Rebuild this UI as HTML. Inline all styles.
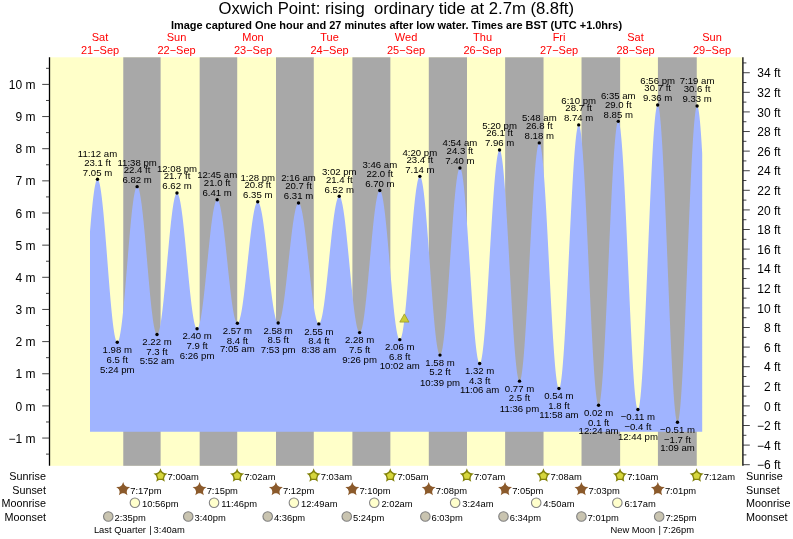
<!DOCTYPE html><html><head><meta charset="utf-8"><title>Oxwich Point tide</title><style>html,body{margin:0;padding:0;background:#fff}svg{display:block;will-change:transform}text{font-family:"Liberation Sans",Arial,Helvetica,sans-serif;fill:#000}.d{font-size:9.6px;text-anchor:middle}.a{font-size:12px}.r{font-size:11px;fill:#ff0000;text-anchor:middle}.t{font-size:9.4px}</style></head><body>
<svg width="793" height="539" viewBox="0 0 793 539">
<rect x="0" y="0" width="793" height="539" fill="#fff"/>
<rect x="49.80" y="57.30" width="692.70" height="408.50" fill="#ffffc9"/>
<rect x="123.27" y="57.30" width="37.35" height="408.50" fill="#a8a8a8"/>
<rect x="199.66" y="57.30" width="37.56" height="408.50" fill="#a8a8a8"/>
<rect x="276.00" y="57.30" width="37.77" height="408.50" fill="#a8a8a8"/>
<rect x="352.39" y="57.30" width="37.98" height="408.50" fill="#a8a8a8"/>
<rect x="428.79" y="57.30" width="38.20" height="408.50" fill="#a8a8a8"/>
<rect x="505.13" y="57.30" width="38.41" height="408.50" fill="#a8a8a8"/>
<rect x="581.52" y="57.30" width="38.62" height="408.50" fill="#a8a8a8"/>
<rect x="657.92" y="57.30" width="38.83" height="408.50" fill="#a8a8a8"/>
<path d="M90.00,431.80 L90.00,231.46 L90.50,225.42 L91.00,219.62 L91.50,214.10 L92.00,208.88 L92.50,204.01 L93.00,199.50 L93.50,195.39 L94.00,191.70 L94.50,188.45 L95.00,185.68 L95.50,183.38 L96.00,181.58 L96.50,180.28 L97.00,179.50 L97.50,179.24 L98.00,179.50 L98.50,180.27 L99.00,181.55 L99.50,183.33 L100.00,185.59 L100.50,188.34 L101.00,191.54 L101.50,195.17 L102.00,199.22 L102.50,203.66 L103.00,208.46 L103.50,213.59 L104.00,219.01 L104.50,224.71 L105.00,230.62 L105.50,236.73 L106.00,242.99 L106.50,249.36 L107.00,255.81 L107.50,262.28 L108.00,268.75 L108.50,275.16 L109.00,281.48 L109.50,287.68 L110.00,293.70 L110.50,299.51 L111.00,305.08 L111.50,310.37 L112.00,315.35 L112.50,319.98 L113.00,324.24 L113.50,328.09 L114.00,331.53 L114.50,334.51 L115.00,337.03 L115.50,339.06 L116.00,340.61 L116.50,341.65 L117.00,342.17 L117.50,342.19 L118.00,341.71 L118.50,340.76 L119.00,339.33 L119.50,337.42 L120.00,335.07 L120.50,332.27 L121.00,329.05 L121.50,325.42 L122.00,321.42 L122.50,317.05 L123.00,312.36 L123.50,307.37 L124.00,302.11 L124.50,296.62 L125.00,290.93 L125.50,285.07 L126.00,279.08 L126.50,273.00 L127.00,266.86 L127.50,260.71 L128.00,254.59 L128.50,248.52 L129.00,242.56 L129.50,236.73 L130.00,231.07 L130.50,225.63 L131.00,220.42 L131.50,215.49 L132.00,210.87 L132.50,206.58 L133.00,202.65 L133.50,199.11 L134.00,195.98 L134.50,193.27 L135.00,191.01 L135.50,189.21 L136.00,187.88 L136.50,187.02 L137.00,186.65 L137.50,186.76 L138.00,187.33 L138.50,188.36 L139.00,189.84 L139.50,191.76 L140.00,194.11 L140.50,196.88 L141.00,200.05 L141.50,203.59 L142.00,207.49 L142.50,211.72 L143.00,216.25 L143.50,221.07 L144.00,226.13 L144.50,231.40 L145.00,236.86 L145.50,242.46 L146.00,248.18 L146.50,253.98 L147.00,259.81 L147.50,265.66 L148.00,271.47 L148.50,277.21 L149.00,282.85 L149.50,288.35 L150.00,293.67 L150.50,298.79 L151.00,303.67 L151.50,308.28 L152.00,312.60 L152.50,316.59 L153.00,320.22 L153.50,323.49 L154.00,326.36 L154.50,328.82 L155.00,330.86 L155.50,332.46 L156.00,333.60 L156.50,334.30 L157.00,334.53 L157.50,334.31 L158.00,333.65 L158.50,332.57 L159.00,331.06 L159.50,329.13 L160.00,326.80 L160.50,324.08 L161.00,320.99 L161.50,317.54 L162.00,313.76 L162.50,309.67 L163.00,305.30 L163.50,300.68 L164.00,295.82 L164.50,290.77 L165.00,285.55 L165.50,280.19 L166.00,274.74 L166.50,269.21 L167.00,263.66 L167.50,258.10 L168.00,252.58 L168.50,247.13 L169.00,241.78 L169.50,236.57 L170.00,231.53 L170.50,226.68 L171.00,222.07 L171.50,217.71 L172.00,213.64 L172.50,209.87 L173.00,206.44 L173.50,203.37 L174.00,200.67 L174.50,198.36 L175.00,196.45 L175.50,194.96 L176.00,193.90 L176.50,193.26 L177.00,193.07 L177.50,193.30 L178.00,193.94 L178.50,194.99 L179.00,196.44 L179.50,198.29 L180.00,200.52 L180.50,203.12 L181.00,206.08 L181.50,209.37 L182.00,212.97 L182.50,216.87 L183.00,221.04 L183.50,225.45 L184.00,230.07 L184.50,234.89 L185.00,239.87 L185.50,244.97 L186.00,250.17 L186.50,255.44 L187.00,260.74 L187.50,266.04 L188.00,271.31 L188.50,276.52 L189.00,281.63 L189.50,286.61 L190.00,291.44 L190.50,296.08 L191.00,300.50 L191.50,304.69 L192.00,308.60 L192.50,312.22 L193.00,315.53 L193.50,318.51 L194.00,321.13 L194.50,323.39 L195.00,325.26 L195.50,326.74 L196.00,327.82 L196.50,328.48 L197.00,328.74 L197.50,328.59 L198.00,328.04 L198.50,327.11 L199.00,325.80 L199.50,324.11 L200.00,322.06 L200.50,319.66 L201.00,316.92 L201.50,313.86 L202.00,310.49 L202.50,306.85 L203.00,302.95 L203.50,298.81 L204.00,294.47 L204.50,289.93 L205.00,285.25 L205.50,280.43 L206.00,275.52 L206.50,270.54 L207.00,265.52 L207.50,260.49 L208.00,255.49 L208.50,250.54 L209.00,245.67 L209.50,240.92 L210.00,236.31 L210.50,231.87 L211.00,227.62 L211.50,223.60 L212.00,219.83 L212.50,216.33 L213.00,213.11 L213.50,210.21 L214.00,207.64 L214.50,205.42 L215.00,203.55 L215.50,202.05 L216.00,200.93 L216.50,200.19 L217.00,199.85 L217.50,199.89 L218.00,200.31 L218.50,201.10 L219.00,202.25 L219.50,203.76 L220.00,205.62 L220.50,207.83 L221.00,210.35 L221.50,213.19 L222.00,216.32 L222.50,219.72 L223.00,223.37 L223.50,227.26 L224.00,231.35 L224.50,235.63 L225.00,240.06 L225.50,244.62 L226.00,249.29 L226.50,254.03 L227.00,258.82 L227.50,263.62 L228.00,268.41 L228.50,273.15 L229.00,277.83 L229.50,282.41 L230.00,286.86 L230.50,291.16 L231.00,295.28 L231.50,299.20 L232.00,302.89 L232.50,306.33 L233.00,309.49 L233.50,312.37 L234.00,314.94 L234.50,317.19 L235.00,319.10 L235.50,320.66 L236.00,321.86 L236.50,322.70 L237.00,323.17 L237.50,323.26 L238.00,322.99 L238.50,322.37 L239.00,321.38 L239.50,320.04 L240.00,318.36 L240.50,316.35 L241.00,314.02 L241.50,311.38 L242.00,308.45 L242.50,305.24 L243.00,301.78 L243.50,298.09 L244.00,294.19 L244.50,290.09 L245.00,285.84 L245.50,281.44 L246.00,276.93 L246.50,272.33 L247.00,267.68 L247.50,262.99 L248.00,258.31 L248.50,253.64 L249.00,249.03 L249.50,244.51 L250.00,240.08 L250.50,235.79 L251.00,231.66 L251.50,227.72 L252.00,223.98 L252.50,220.47 L253.00,217.21 L253.50,214.22 L254.00,211.52 L254.50,209.13 L255.00,207.05 L255.50,205.30 L256.00,203.89 L256.50,202.83 L257.00,202.13 L257.50,201.78 L258.00,201.80 L258.50,202.18 L259.00,202.91 L259.50,203.99 L260.00,205.41 L260.50,207.17 L261.00,209.25 L261.50,211.65 L262.00,214.35 L262.50,217.33 L263.00,220.58 L263.50,224.07 L264.00,227.78 L264.50,231.71 L265.00,235.81 L265.50,240.07 L266.00,244.45 L266.50,248.95 L267.00,253.52 L267.50,258.15 L268.00,262.80 L268.50,267.45 L269.00,272.07 L269.50,276.63 L270.00,281.11 L270.50,285.47 L271.00,289.70 L271.50,293.77 L272.00,297.65 L272.50,301.33 L273.00,304.77 L273.50,307.97 L274.00,310.90 L274.50,313.54 L275.00,315.87 L275.50,317.90 L276.00,319.59 L276.50,320.95 L277.00,321.96 L277.50,322.62 L278.00,322.93 L278.50,322.88 L279.00,322.47 L279.50,321.71 L280.00,320.60 L280.50,319.14 L281.00,317.35 L281.50,315.24 L282.00,312.81 L282.50,310.09 L283.00,307.09 L283.50,303.82 L284.00,300.32 L284.50,296.59 L285.00,292.66 L285.50,288.55 L286.00,284.29 L286.50,279.90 L287.00,275.42 L287.50,270.85 L288.00,266.25 L288.50,261.62 L289.00,257.00 L289.50,252.42 L290.00,247.90 L290.50,243.47 L291.00,239.15 L291.50,234.98 L292.00,230.97 L292.50,227.16 L293.00,223.56 L293.50,220.19 L294.00,217.08 L294.50,214.24 L295.00,211.70 L295.50,209.46 L296.00,207.53 L296.50,205.94 L297.00,204.69 L297.50,203.78 L298.00,203.23 L298.50,203.03 L299.00,203.20 L299.50,203.72 L300.00,204.60 L300.50,205.84 L301.00,207.42 L301.50,209.33 L302.00,211.57 L302.50,214.12 L303.00,216.97 L303.50,220.09 L304.00,223.47 L304.50,227.10 L305.00,230.94 L305.50,234.98 L306.00,239.18 L306.50,243.53 L307.00,248.01 L307.50,252.57 L308.00,257.20 L308.50,261.87 L309.00,266.54 L309.50,271.20 L310.00,275.82 L310.50,280.35 L311.00,284.79 L311.50,289.10 L312.00,293.26 L312.50,297.23 L313.00,301.01 L313.50,304.56 L314.00,307.87 L314.50,310.90 L315.00,313.66 L315.50,316.11 L316.00,318.25 L316.50,320.07 L317.00,321.54 L317.50,322.66 L318.00,323.43 L318.50,323.84 L319.00,323.89 L319.50,323.57 L320.00,322.86 L320.50,321.79 L321.00,320.35 L321.50,318.55 L322.00,316.41 L322.50,313.93 L323.00,311.14 L323.50,308.04 L324.00,304.66 L324.50,301.01 L325.00,297.12 L325.50,293.01 L326.00,288.71 L326.50,284.24 L327.00,279.62 L327.50,274.89 L328.00,270.07 L328.50,265.19 L329.00,260.28 L329.50,255.37 L330.00,250.49 L330.50,245.67 L331.00,240.93 L331.50,236.30 L332.00,231.82 L332.50,227.50 L333.00,223.38 L333.50,219.47 L334.00,215.81 L334.50,212.40 L335.00,209.28 L335.50,206.46 L336.00,203.96 L336.50,201.79 L337.00,199.97 L337.50,198.50 L338.00,197.40 L338.50,196.67 L339.00,196.32 L339.50,196.35 L340.00,196.77 L340.50,197.60 L341.00,198.83 L341.50,200.44 L342.00,202.44 L342.50,204.80 L343.00,207.51 L343.50,210.57 L344.00,213.94 L344.50,217.61 L345.00,221.56 L345.50,225.76 L346.00,230.19 L346.50,234.83 L347.00,239.64 L347.50,244.59 L348.00,249.67 L348.50,254.83 L349.00,260.05 L349.50,265.29 L350.00,270.53 L350.50,275.74 L351.00,280.87 L351.50,285.91 L352.00,290.83 L352.50,295.58 L353.00,300.15 L353.50,304.51 L354.00,308.64 L354.50,312.50 L355.00,316.07 L355.50,319.34 L356.00,322.29 L356.50,324.89 L357.00,327.13 L357.50,329.00 L358.00,330.49 L358.50,331.59 L359.00,332.29 L359.50,332.59 L360.00,332.47 L360.50,331.93 L361.00,330.96 L361.50,329.57 L362.00,327.78 L362.50,325.57 L363.00,322.99 L363.50,320.03 L364.00,316.71 L364.50,313.07 L365.00,309.11 L365.50,304.86 L366.00,300.35 L366.50,295.61 L367.00,290.66 L367.50,285.53 L368.00,280.26 L368.50,274.87 L369.00,269.41 L369.50,263.90 L370.00,258.37 L370.50,252.86 L371.00,247.41 L371.50,242.04 L372.00,236.78 L372.50,231.68 L373.00,226.76 L373.50,222.05 L374.00,217.58 L374.50,213.37 L375.00,209.46 L375.50,205.86 L376.00,202.60 L376.50,199.69 L377.00,197.16 L377.50,195.02 L378.00,193.28 L378.50,191.96 L379.00,191.05 L379.50,190.58 L380.00,190.53 L380.50,190.94 L381.00,191.81 L381.50,193.13 L382.00,194.89 L382.50,197.09 L383.00,199.71 L383.50,202.73 L384.00,206.14 L384.50,209.91 L385.00,214.03 L385.50,218.46 L386.00,223.17 L386.50,228.15 L387.00,233.35 L387.50,238.76 L388.00,244.32 L388.50,250.01 L389.00,255.80 L389.50,261.64 L390.00,267.50 L390.50,273.35 L391.00,279.15 L391.50,284.86 L392.00,290.45 L392.50,295.88 L393.00,301.12 L393.50,306.14 L394.00,310.91 L394.50,315.39 L395.00,319.56 L395.50,323.39 L396.00,326.87 L396.50,329.96 L397.00,332.65 L397.50,334.92 L398.00,336.76 L398.50,338.16 L399.00,339.11 L399.50,339.60 L400.00,339.62 L400.50,339.16 L401.00,338.19 L401.50,336.74 L402.00,334.80 L402.50,332.40 L403.00,329.53 L403.50,326.24 L404.00,322.52 L404.50,318.41 L405.00,313.93 L405.50,309.11 L406.00,303.98 L406.50,298.56 L407.00,292.90 L407.50,287.02 L408.00,280.97 L408.50,274.78 L409.00,268.48 L409.50,262.12 L410.00,255.73 L410.50,249.36 L411.00,243.04 L411.50,236.82 L412.00,230.72 L412.50,224.79 L413.00,219.06 L413.50,213.57 L414.00,208.35 L414.50,203.44 L415.00,198.86 L415.50,194.64 L416.00,190.81 L416.50,187.39 L417.00,184.40 L417.50,181.86 L418.00,179.79 L418.50,178.20 L419.00,177.09 L419.50,176.48 L420.00,176.37 L420.50,176.79 L421.00,177.75 L421.50,179.25 L422.00,181.27 L422.50,183.81 L423.00,186.85 L423.50,190.36 L424.00,194.34 L424.50,198.74 L425.00,203.56 L425.50,208.75 L426.00,214.29 L426.50,220.15 L427.00,226.28 L427.50,232.65 L428.00,239.22 L428.50,245.95 L429.00,252.81 L429.50,259.74 L430.00,266.71 L430.50,273.67 L431.00,280.58 L431.50,287.41 L432.00,294.10 L432.50,300.62 L433.00,306.92 L433.50,312.98 L434.00,318.75 L434.50,324.20 L435.00,329.29 L435.50,333.99 L436.00,338.28 L436.50,342.13 L437.00,345.51 L437.50,348.41 L438.00,350.80 L438.50,352.68 L439.00,354.02 L439.50,354.83 L440.00,355.10 L440.50,354.81 L441.00,353.93 L441.50,352.49 L442.00,350.47 L442.50,347.91 L443.00,344.81 L443.50,341.19 L444.00,337.07 L444.50,332.49 L445.00,327.46 L445.50,322.03 L446.00,316.22 L446.50,310.07 L447.00,303.62 L447.50,296.91 L448.00,289.97 L448.50,282.87 L449.00,275.62 L449.50,268.29 L450.00,260.92 L450.50,253.56 L451.00,246.24 L451.50,239.02 L452.00,231.94 L452.50,225.04 L453.00,218.37 L453.50,211.96 L454.00,205.87 L454.50,200.12 L455.00,194.75 L455.50,189.80 L456.00,185.29 L456.50,181.26 L457.00,177.73 L457.50,174.71 L458.00,172.24 L458.50,170.32 L459.00,168.97 L459.50,168.19 L460.00,168.00 L460.50,168.41 L461.00,169.43 L461.50,171.06 L462.00,173.29 L462.50,176.10 L463.00,179.48 L463.50,183.41 L464.00,187.85 L464.50,192.78 L465.00,198.18 L465.50,204.00 L466.00,210.21 L466.50,216.77 L467.00,223.65 L467.50,230.78 L468.00,238.14 L468.50,245.67 L469.00,253.33 L469.50,261.07 L470.00,268.83 L470.50,276.58 L471.00,284.26 L471.50,291.82 L472.00,299.21 L472.50,306.40 L473.00,313.33 L473.50,319.95 L474.00,326.24 L474.50,332.14 L475.00,337.63 L475.50,342.66 L476.00,347.20 L476.50,351.23 L477.00,354.72 L477.50,357.65 L478.00,359.99 L478.50,361.74 L479.00,362.89 L479.50,363.42 L480.00,363.33 L480.50,362.57 L481.00,361.15 L481.50,359.08 L482.00,356.37 L482.50,353.03 L483.00,349.10 L483.50,344.59 L484.00,339.53 L484.50,333.95 L485.00,327.89 L485.50,321.38 L486.00,314.48 L486.50,307.21 L487.00,299.62 L487.50,291.77 L488.00,283.70 L488.50,275.46 L489.00,267.10 L489.50,258.68 L490.00,250.24 L490.50,241.85 L491.00,233.55 L491.50,225.39 L492.00,217.43 L492.50,209.71 L493.00,202.29 L493.50,195.21 L494.00,188.51 L494.50,182.24 L495.00,176.44 L495.50,171.13 L496.00,166.36 L496.50,162.16 L497.00,158.55 L497.50,155.54 L498.00,153.18 L498.50,151.45 L499.00,150.39 L499.50,149.99 L500.00,150.28 L500.50,151.27 L501.00,152.98 L501.50,155.38 L502.00,158.46 L502.50,162.20 L503.00,166.59 L503.50,171.58 L504.00,177.16 L504.50,183.28 L505.00,189.91 L505.50,197.01 L506.00,204.53 L506.50,212.43 L507.00,220.65 L507.50,229.16 L508.00,237.89 L508.50,246.79 L509.00,255.81 L509.50,264.88 L510.00,273.97 L510.50,282.99 L511.00,291.92 L511.50,300.68 L512.00,309.22 L512.50,317.49 L513.00,325.44 L513.50,333.02 L514.00,340.19 L514.50,346.89 L515.00,353.09 L515.50,358.75 L516.00,363.83 L516.50,368.31 L517.00,372.15 L517.50,375.33 L518.00,377.84 L518.50,379.65 L519.00,380.75 L519.50,381.14 L520.00,380.81 L520.50,379.72 L521.00,377.89 L521.50,375.32 L522.00,372.04 L522.50,368.07 L523.00,363.43 L523.50,358.14 L524.00,352.25 L524.50,345.79 L525.00,338.81 L525.50,331.33 L526.00,323.42 L526.50,315.12 L527.00,306.49 L527.50,297.57 L528.00,288.44 L528.50,279.13 L529.00,269.72 L529.50,260.25 L530.00,250.80 L530.50,241.42 L531.00,232.17 L531.50,223.11 L532.00,214.29 L532.50,205.78 L533.00,197.62 L533.50,189.87 L534.00,182.57 L534.50,175.78 L535.00,169.53 L535.50,163.86 L536.00,158.81 L536.50,154.42 L537.00,150.70 L537.50,147.69 L538.00,145.40 L538.50,143.85 L539.00,143.04 L539.50,142.98 L540.00,143.71 L540.50,145.21 L541.00,147.48 L541.50,150.51 L542.00,154.27 L542.50,158.75 L543.00,163.91 L543.50,169.71 L544.00,176.13 L544.50,183.12 L545.00,190.64 L545.50,198.64 L546.00,207.07 L546.50,215.87 L547.00,224.99 L547.50,234.36 L548.00,243.94 L548.50,253.66 L549.00,263.46 L549.50,273.27 L550.00,283.03 L550.50,292.68 L551.00,302.16 L551.50,311.40 L552.00,320.36 L552.50,328.96 L553.00,337.17 L553.50,344.91 L554.00,352.15 L554.50,358.84 L555.00,364.94 L555.50,370.40 L556.00,375.19 L556.50,379.29 L557.00,382.66 L557.50,385.28 L558.00,387.14 L558.50,388.23 L559.00,388.53 L559.50,388.02 L560.00,386.69 L560.50,384.53 L561.00,381.56 L561.50,377.80 L562.00,373.29 L562.50,368.03 L563.00,362.07 L563.50,355.45 L564.00,348.20 L564.50,340.38 L565.00,332.03 L565.50,323.20 L566.00,313.95 L566.50,304.34 L567.00,294.43 L567.50,284.28 L568.00,273.96 L568.50,263.53 L569.00,253.06 L569.50,242.61 L570.00,232.25 L570.50,222.04 L571.00,212.05 L571.50,202.35 L572.00,192.98 L572.50,184.02 L573.00,175.52 L573.50,167.53 L574.00,160.11 L574.50,153.29 L575.00,147.13 L575.50,141.66 L576.00,136.92 L576.50,132.93 L577.00,129.73 L577.50,127.32 L578.00,125.74 L578.50,124.98 L579.00,125.06 L579.50,126.01 L580.00,127.83 L580.50,130.51 L581.00,134.03 L581.50,138.36 L582.00,143.49 L582.50,149.38 L583.00,155.99 L583.50,163.28 L584.00,171.21 L584.50,179.73 L585.00,188.78 L585.50,198.30 L586.00,208.24 L586.50,218.54 L587.00,229.13 L587.50,239.94 L588.00,250.91 L588.50,261.97 L589.00,273.04 L589.50,284.07 L590.00,294.98 L590.50,305.70 L591.00,316.17 L591.50,326.32 L592.00,336.09 L592.50,345.41 L593.00,354.23 L593.50,362.50 L594.00,370.15 L594.50,377.15 L595.00,383.45 L595.50,389.01 L596.00,393.80 L596.50,397.78 L597.00,400.93 L597.50,403.24 L598.00,404.68 L598.50,405.25 L599.00,404.93 L599.50,403.72 L600.00,401.61 L600.50,398.63 L601.00,394.78 L601.50,390.11 L602.00,384.62 L602.50,378.37 L603.00,371.39 L603.50,363.72 L604.00,355.41 L604.50,346.52 L605.00,337.10 L605.50,327.22 L606.00,316.92 L606.50,306.29 L607.00,295.38 L607.50,284.27 L608.00,273.03 L608.50,261.72 L609.00,250.43 L609.50,239.22 L610.00,228.16 L610.50,217.32 L611.00,206.77 L611.50,196.59 L612.00,186.83 L612.50,177.55 L613.00,168.82 L613.50,160.69 L614.00,153.20 L614.50,146.42 L615.00,140.38 L615.50,135.12 L616.00,130.68 L616.50,127.08 L617.00,124.34 L617.50,122.48 L618.00,121.52 L618.50,121.46 L619.00,122.32 L619.50,124.10 L620.00,126.78 L620.50,130.36 L621.00,134.80 L621.50,140.08 L622.00,146.16 L622.50,153.01 L623.00,160.58 L623.50,168.82 L624.00,177.69 L624.50,187.11 L625.00,197.04 L625.50,207.41 L626.00,218.15 L626.50,229.19 L627.00,240.46 L627.50,251.90 L628.00,263.42 L628.50,274.96 L629.00,286.43 L629.50,297.77 L630.00,308.90 L630.50,319.75 L631.00,330.25 L631.50,340.34 L632.00,349.94 L632.50,359.00 L633.00,367.47 L633.50,375.27 L634.00,382.38 L634.50,388.73 L635.00,394.29 L635.50,399.02 L636.00,402.90 L636.50,405.89 L637.00,407.98 L637.50,409.16 L638.00,409.41 L638.50,408.72 L639.00,407.06 L639.50,404.46 L640.00,400.93 L640.50,396.50 L641.00,391.18 L641.50,385.02 L642.00,378.05 L642.50,370.32 L643.00,361.87 L643.50,352.76 L644.00,343.05 L644.50,332.80 L645.00,322.07 L645.50,310.93 L646.00,299.45 L646.50,287.70 L647.00,275.76 L647.50,263.71 L648.00,251.61 L648.50,239.55 L649.00,227.60 L649.50,215.84 L650.00,204.34 L650.50,193.17 L651.00,182.40 L651.50,172.11 L652.00,162.36 L652.50,153.20 L653.00,144.71 L653.50,136.92 L654.00,129.89 L654.50,123.67 L655.00,118.29 L655.50,113.78 L656.00,110.18 L656.50,107.51 L657.00,105.79 L657.50,105.02 L658.00,105.22 L658.50,106.41 L659.00,108.60 L659.50,111.75 L660.00,115.86 L660.50,120.90 L661.00,126.83 L661.50,133.63 L662.00,141.24 L662.50,149.61 L663.00,158.71 L663.50,168.46 L664.00,178.81 L664.50,189.70 L665.00,201.05 L665.50,212.79 L666.00,224.85 L666.50,237.15 L667.00,249.62 L667.50,262.18 L668.00,274.75 L668.50,287.25 L669.00,299.60 L669.50,311.72 L670.00,323.54 L670.50,334.99 L671.00,345.99 L671.50,356.47 L672.00,366.37 L672.50,375.62 L673.00,384.17 L673.50,391.96 L674.00,398.94 L674.50,405.08 L675.00,410.33 L675.50,414.65 L676.00,418.03 L676.50,420.44 L677.00,421.86 L677.50,422.29 L678.00,421.72 L678.50,420.14 L679.00,417.56 L679.50,414.01 L680.00,409.50 L680.50,404.06 L681.00,397.72 L681.50,390.54 L682.00,382.54 L682.50,373.80 L683.00,364.35 L683.50,354.26 L684.00,343.59 L684.50,332.42 L685.00,320.82 L685.50,308.85 L686.00,296.59 L686.50,284.13 L687.00,271.54 L687.50,258.91 L688.00,246.30 L688.50,233.81 L689.00,221.52 L689.50,209.49 L690.00,197.82 L690.50,186.56 L691.00,175.80 L691.50,165.61 L692.00,156.05 L692.50,147.17 L693.00,139.04 L693.50,131.71 L694.00,125.23 L694.50,119.63 L695.00,114.95 L695.50,111.23 L696.00,108.48 L696.50,106.72 L697.00,105.97 L697.50,106.22 L698.00,107.44 L698.50,109.62 L699.00,112.75 L699.50,116.81 L700.00,121.77 L700.50,127.61 L701.00,134.29 L701.50,141.76 L702.00,149.99 L702.20,153.48 L702.20,431.80 Z" fill="#a0b4ff"/>
<g stroke="#000" stroke-width="1.3" fill="none">
<line x1="49.50" y1="57.30" x2="49.50" y2="465.80"/>
<line x1="742.90" y1="57.30" x2="742.90" y2="465.80"/>
</g><g stroke="#222" stroke-width="0.85" fill="none">
<line x1="42.2" y1="438.05" x2="49.5" y2="438.05"/>
<line x1="42.2" y1="405.90" x2="49.5" y2="405.90"/>
<line x1="42.2" y1="373.75" x2="49.5" y2="373.75"/>
<line x1="42.2" y1="341.60" x2="49.5" y2="341.60"/>
<line x1="42.2" y1="309.45" x2="49.5" y2="309.45"/>
<line x1="42.2" y1="277.30" x2="49.5" y2="277.30"/>
<line x1="42.2" y1="245.15" x2="49.5" y2="245.15"/>
<line x1="42.2" y1="213.00" x2="49.5" y2="213.00"/>
<line x1="42.2" y1="180.85" x2="49.5" y2="180.85"/>
<line x1="42.2" y1="148.70" x2="49.5" y2="148.70"/>
<line x1="42.2" y1="116.55" x2="49.5" y2="116.55"/>
<line x1="42.2" y1="84.40" x2="49.5" y2="84.40"/>
<line x1="46.0" y1="454.12" x2="49.5" y2="454.12"/>
<line x1="46.0" y1="421.97" x2="49.5" y2="421.97"/>
<line x1="46.0" y1="389.82" x2="49.5" y2="389.82"/>
<line x1="46.0" y1="357.67" x2="49.5" y2="357.67"/>
<line x1="46.0" y1="325.52" x2="49.5" y2="325.52"/>
<line x1="46.0" y1="293.38" x2="49.5" y2="293.38"/>
<line x1="46.0" y1="261.23" x2="49.5" y2="261.23"/>
<line x1="46.0" y1="229.07" x2="49.5" y2="229.07"/>
<line x1="46.0" y1="196.92" x2="49.5" y2="196.92"/>
<line x1="46.0" y1="164.77" x2="49.5" y2="164.77"/>
<line x1="46.0" y1="132.62" x2="49.5" y2="132.62"/>
<line x1="46.0" y1="100.47" x2="49.5" y2="100.47"/>
<line x1="46.0" y1="68.32" x2="49.5" y2="68.32"/>
<line x1="743" y1="464.70" x2="749.80" y2="464.70"/>
<line x1="743" y1="454.90" x2="746.40" y2="454.90"/>
<line x1="743" y1="445.10" x2="749.80" y2="445.10"/>
<line x1="743" y1="435.30" x2="746.40" y2="435.30"/>
<line x1="743" y1="425.50" x2="749.80" y2="425.50"/>
<line x1="743" y1="415.70" x2="746.40" y2="415.70"/>
<line x1="743" y1="405.90" x2="749.80" y2="405.90"/>
<line x1="743" y1="396.10" x2="746.40" y2="396.10"/>
<line x1="743" y1="386.30" x2="749.80" y2="386.30"/>
<line x1="743" y1="376.50" x2="746.40" y2="376.50"/>
<line x1="743" y1="366.70" x2="749.80" y2="366.70"/>
<line x1="743" y1="356.90" x2="746.40" y2="356.90"/>
<line x1="743" y1="347.10" x2="749.80" y2="347.10"/>
<line x1="743" y1="337.30" x2="746.40" y2="337.30"/>
<line x1="743" y1="327.51" x2="749.80" y2="327.51"/>
<line x1="743" y1="317.71" x2="746.40" y2="317.71"/>
<line x1="743" y1="307.91" x2="749.80" y2="307.91"/>
<line x1="743" y1="298.11" x2="746.40" y2="298.11"/>
<line x1="743" y1="288.31" x2="749.80" y2="288.31"/>
<line x1="743" y1="278.51" x2="746.40" y2="278.51"/>
<line x1="743" y1="268.71" x2="749.80" y2="268.71"/>
<line x1="743" y1="258.91" x2="746.40" y2="258.91"/>
<line x1="743" y1="249.11" x2="749.80" y2="249.11"/>
<line x1="743" y1="239.31" x2="746.40" y2="239.31"/>
<line x1="743" y1="229.51" x2="749.80" y2="229.51"/>
<line x1="743" y1="219.71" x2="746.40" y2="219.71"/>
<line x1="743" y1="209.91" x2="749.80" y2="209.91"/>
<line x1="743" y1="200.11" x2="746.40" y2="200.11"/>
<line x1="743" y1="190.31" x2="749.80" y2="190.31"/>
<line x1="743" y1="180.52" x2="746.40" y2="180.52"/>
<line x1="743" y1="170.72" x2="749.80" y2="170.72"/>
<line x1="743" y1="160.92" x2="746.40" y2="160.92"/>
<line x1="743" y1="151.12" x2="749.80" y2="151.12"/>
<line x1="743" y1="141.32" x2="746.40" y2="141.32"/>
<line x1="743" y1="131.52" x2="749.80" y2="131.52"/>
<line x1="743" y1="121.72" x2="746.40" y2="121.72"/>
<line x1="743" y1="111.92" x2="749.80" y2="111.92"/>
<line x1="743" y1="102.12" x2="746.40" y2="102.12"/>
<line x1="743" y1="92.32" x2="749.80" y2="92.32"/>
<line x1="743" y1="82.52" x2="746.40" y2="82.52"/>
<line x1="743" y1="72.72" x2="749.80" y2="72.72"/>
<line x1="743" y1="62.92" x2="746.40" y2="62.92"/>
</g>
<text class="a" x="35.4" y="442.65" text-anchor="end">−1 m</text>
<text class="a" x="35.4" y="410.50" text-anchor="end">0 m</text>
<text class="a" x="35.4" y="378.35" text-anchor="end">1 m</text>
<text class="a" x="35.4" y="346.20" text-anchor="end">2 m</text>
<text class="a" x="35.4" y="314.05" text-anchor="end">3 m</text>
<text class="a" x="35.4" y="281.90" text-anchor="end">4 m</text>
<text class="a" x="35.4" y="249.75" text-anchor="end">5 m</text>
<text class="a" x="35.4" y="217.60" text-anchor="end">6 m</text>
<text class="a" x="35.4" y="185.45" text-anchor="end">7 m</text>
<text class="a" x="35.4" y="153.30" text-anchor="end">8 m</text>
<text class="a" x="35.4" y="121.15" text-anchor="end">9 m</text>
<text class="a" x="35.4" y="89.00" text-anchor="end">10 m</text>
<text class="a" x="780.6" y="469.30" text-anchor="end">−6 ft</text>
<text class="a" x="780.6" y="449.70" text-anchor="end">−4 ft</text>
<text class="a" x="780.6" y="430.10" text-anchor="end">−2 ft</text>
<text class="a" x="780.6" y="410.50" text-anchor="end">0 ft</text>
<text class="a" x="780.6" y="390.90" text-anchor="end">2 ft</text>
<text class="a" x="780.6" y="371.30" text-anchor="end">4 ft</text>
<text class="a" x="780.6" y="351.70" text-anchor="end">6 ft</text>
<text class="a" x="780.6" y="332.11" text-anchor="end">8 ft</text>
<text class="a" x="780.6" y="312.51" text-anchor="end">10 ft</text>
<text class="a" x="780.6" y="292.91" text-anchor="end">12 ft</text>
<text class="a" x="780.6" y="273.31" text-anchor="end">14 ft</text>
<text class="a" x="780.6" y="253.71" text-anchor="end">16 ft</text>
<text class="a" x="780.6" y="234.11" text-anchor="end">18 ft</text>
<text class="a" x="780.6" y="214.51" text-anchor="end">20 ft</text>
<text class="a" x="780.6" y="194.91" text-anchor="end">22 ft</text>
<text class="a" x="780.6" y="175.32" text-anchor="end">24 ft</text>
<text class="a" x="780.6" y="155.72" text-anchor="end">26 ft</text>
<text class="a" x="780.6" y="136.12" text-anchor="end">28 ft</text>
<text class="a" x="780.6" y="116.52" text-anchor="end">30 ft</text>
<text class="a" x="780.6" y="96.92" text-anchor="end">32 ft</text>
<text class="a" x="780.6" y="77.32" text-anchor="end">34 ft</text>
<text x="396.2" y="13.9" text-anchor="middle" style="font-size:16.66px">Oxwich Point: rising  ordinary tide at 2.7m (8.8ft)</text>
<text x="396.5" y="28.5" text-anchor="middle" style="font-size:10.96px;font-weight:bold">Image captured One hour and 27 minutes after low water. Times are BST (UTC +1.0hrs)</text>
<text class="r" x="100.05" y="41.4">Sat</text>
<text class="r" x="100.05" y="54.2">21−Sep</text>
<text class="r" x="176.55" y="41.4">Sun</text>
<text class="r" x="176.55" y="54.2">22−Sep</text>
<text class="r" x="253.05" y="41.4">Mon</text>
<text class="r" x="253.05" y="54.2">23−Sep</text>
<text class="r" x="329.55" y="41.4">Tue</text>
<text class="r" x="329.55" y="54.2">24−Sep</text>
<text class="r" x="406.05" y="41.4">Wed</text>
<text class="r" x="406.05" y="54.2">25−Sep</text>
<text class="r" x="482.55" y="41.4">Thu</text>
<text class="r" x="482.55" y="54.2">26−Sep</text>
<text class="r" x="559.05" y="41.4">Fri</text>
<text class="r" x="559.05" y="54.2">27−Sep</text>
<text class="r" x="635.55" y="41.4">Sat</text>
<text class="r" x="635.55" y="54.2">28−Sep</text>
<text class="r" x="712.05" y="41.4">Sun</text>
<text class="r" x="712.05" y="54.2">29−Sep</text>
<circle cx="97.50" cy="179.24" r="1.7" fill="#000"/>
<text class="d" x="97.50" y="157.04">11:12 am</text>
<text class="d" x="97.50" y="165.64">23.1 ft</text>
<text class="d" x="97.50" y="175.64">7.05 m</text>
<circle cx="117.26" cy="342.24" r="1.7" fill="#000"/>
<text class="d" x="117.26" y="352.84">1.98 m</text>
<text class="d" x="117.26" y="362.54">6.5 ft</text>
<text class="d" x="117.26" y="372.74">5:24 pm</text>
<circle cx="137.13" cy="186.64" r="1.7" fill="#000"/>
<text class="d" x="137.13" y="165.84">11:38 pm</text>
<text class="d" x="137.13" y="173.04">22.4 ft</text>
<text class="d" x="137.13" y="183.04">6.82 m</text>
<circle cx="157.00" cy="334.53" r="1.7" fill="#000"/>
<text class="d" x="157.00" y="345.13">2.22 m</text>
<text class="d" x="157.00" y="354.83">7.3 ft</text>
<text class="d" x="157.00" y="363.63">5:52 am</text>
<circle cx="176.97" cy="193.07" r="1.7" fill="#000"/>
<text class="d" x="176.97" y="172.27">12:08 pm</text>
<text class="d" x="176.97" y="179.47">21.7 ft</text>
<text class="d" x="176.97" y="189.47">6.62 m</text>
<circle cx="197.06" cy="328.74" r="1.7" fill="#000"/>
<text class="d" x="197.06" y="339.34">2.40 m</text>
<text class="d" x="197.06" y="349.04">7.9 ft</text>
<text class="d" x="197.06" y="359.24">6:26 pm</text>
<circle cx="217.19" cy="199.82" r="1.7" fill="#000"/>
<text class="d" x="217.19" y="177.62">12:45 am</text>
<text class="d" x="217.19" y="186.22">21.0 ft</text>
<text class="d" x="217.19" y="196.22">6.41 m</text>
<circle cx="237.38" cy="323.27" r="1.7" fill="#000"/>
<text class="d" x="237.38" y="333.87">2.57 m</text>
<text class="d" x="237.38" y="343.57">8.4 ft</text>
<text class="d" x="237.38" y="352.37">7:05 am</text>
<circle cx="257.73" cy="201.75" r="1.7" fill="#000"/>
<text class="d" x="257.73" y="180.95">1:28 pm</text>
<text class="d" x="257.73" y="188.15">20.8 ft</text>
<text class="d" x="257.73" y="198.15">6.35 m</text>
<circle cx="278.18" cy="322.95" r="1.7" fill="#000"/>
<text class="d" x="278.18" y="333.55">2.58 m</text>
<text class="d" x="278.18" y="343.25">8.5 ft</text>
<text class="d" x="278.18" y="353.45">7:53 pm</text>
<circle cx="298.52" cy="203.03" r="1.7" fill="#000"/>
<text class="d" x="298.52" y="180.83">2:16 am</text>
<text class="d" x="298.52" y="189.43">20.7 ft</text>
<text class="d" x="298.52" y="199.43">6.31 m</text>
<circle cx="318.82" cy="323.92" r="1.7" fill="#000"/>
<text class="d" x="318.82" y="334.52">2.55 m</text>
<text class="d" x="318.82" y="344.22">8.4 ft</text>
<text class="d" x="318.82" y="353.02">8:38 am</text>
<circle cx="339.22" cy="196.28" r="1.7" fill="#000"/>
<text class="d" x="339.22" y="175.48">3:02 pm</text>
<text class="d" x="339.22" y="182.68">21.4 ft</text>
<text class="d" x="339.22" y="192.68">6.52 m</text>
<circle cx="359.62" cy="332.60" r="1.7" fill="#000"/>
<text class="d" x="359.62" y="343.20">2.28 m</text>
<text class="d" x="359.62" y="352.90">7.5 ft</text>
<text class="d" x="359.62" y="363.10">9:26 pm</text>
<circle cx="379.81" cy="190.49" r="1.7" fill="#000"/>
<text class="d" x="379.81" y="168.29">3:46 am</text>
<text class="d" x="379.81" y="176.89">22.0 ft</text>
<text class="d" x="379.81" y="186.89">6.70 m</text>
<circle cx="399.78" cy="339.67" r="1.7" fill="#000"/>
<text class="d" x="399.78" y="350.27">2.06 m</text>
<text class="d" x="399.78" y="359.97">6.8 ft</text>
<text class="d" x="399.78" y="368.77">10:02 am</text>
<circle cx="419.86" cy="176.35" r="1.7" fill="#000"/>
<text class="d" x="419.86" y="155.55">4:20 pm</text>
<text class="d" x="419.86" y="162.75">23.4 ft</text>
<text class="d" x="419.86" y="172.75">7.14 m</text>
<circle cx="440.00" cy="355.10" r="1.7" fill="#000"/>
<text class="d" x="440.00" y="365.70">1.58 m</text>
<text class="d" x="440.00" y="375.40">5.2 ft</text>
<text class="d" x="440.00" y="385.60">10:39 pm</text>
<circle cx="459.92" cy="167.99" r="1.7" fill="#000"/>
<text class="d" x="459.92" y="145.79">4:54 am</text>
<text class="d" x="459.92" y="154.39">24.3 ft</text>
<text class="d" x="459.92" y="164.39">7.40 m</text>
<circle cx="479.68" cy="363.46" r="1.7" fill="#000"/>
<text class="d" x="479.68" y="374.06">1.32 m</text>
<text class="d" x="479.68" y="383.76">4.3 ft</text>
<text class="d" x="479.68" y="392.56">11:06 am</text>
<circle cx="499.55" cy="149.99" r="1.7" fill="#000"/>
<text class="d" x="499.55" y="129.19">5:20 pm</text>
<text class="d" x="499.55" y="136.39">26.1 ft</text>
<text class="d" x="499.55" y="146.39">7.96 m</text>
<circle cx="519.52" cy="381.14" r="1.7" fill="#000"/>
<text class="d" x="519.52" y="391.74">0.77 m</text>
<text class="d" x="519.52" y="401.44">2.5 ft</text>
<text class="d" x="519.52" y="411.64">11:36 pm</text>
<circle cx="539.29" cy="142.91" r="1.7" fill="#000"/>
<text class="d" x="539.29" y="120.71">5:48 am</text>
<text class="d" x="539.29" y="129.31">26.8 ft</text>
<text class="d" x="539.29" y="139.31">8.18 m</text>
<circle cx="558.94" cy="388.54" r="1.7" fill="#000"/>
<text class="d" x="558.94" y="399.14">0.54 m</text>
<text class="d" x="558.94" y="408.84">1.8 ft</text>
<text class="d" x="558.94" y="417.64">11:58 am</text>
<circle cx="578.71" cy="124.91" r="1.7" fill="#000"/>
<text class="d" x="578.71" y="104.11">6:10 pm</text>
<text class="d" x="578.71" y="111.31">28.7 ft</text>
<text class="d" x="578.71" y="121.31">8.74 m</text>
<circle cx="598.57" cy="405.26" r="1.7" fill="#000"/>
<text class="d" x="598.57" y="415.86">0.02 m</text>
<text class="d" x="598.57" y="425.56">0.1 ft</text>
<text class="d" x="598.57" y="434.36">12:24 am</text>
<circle cx="618.28" cy="121.37" r="1.7" fill="#000"/>
<text class="d" x="618.28" y="99.17">6:35 am</text>
<text class="d" x="618.28" y="107.77">29.0 ft</text>
<text class="d" x="618.28" y="117.77">8.85 m</text>
<circle cx="637.89" cy="409.44" r="1.7" fill="#000"/>
<text class="d" x="637.89" y="420.04">−0.11 m</text>
<text class="d" x="637.89" y="429.74">−0.4 ft</text>
<text class="d" x="637.89" y="439.94">12:44 pm</text>
<circle cx="657.65" cy="104.98" r="1.7" fill="#000"/>
<text class="d" x="657.65" y="84.18">6:56 pm</text>
<text class="d" x="657.65" y="91.38">30.7 ft</text>
<text class="d" x="657.65" y="101.38">9.36 m</text>
<circle cx="677.47" cy="422.30" r="1.7" fill="#000"/>
<text class="d" x="677.47" y="432.90">−0.51 m</text>
<text class="d" x="677.47" y="442.60">−1.7 ft</text>
<text class="d" x="677.47" y="451.40">1:09 am</text>
<circle cx="697.12" cy="105.94" r="1.7" fill="#000"/>
<text class="d" x="697.12" y="83.74">7:19 am</text>
<text class="d" x="697.12" y="92.34">30.6 ft</text>
<text class="d" x="697.12" y="102.34">9.33 m</text>
<path d="M404.40,313.89 L409.00,322.09 L399.80,322.09 Z" fill="#cccc33" stroke="#99992a" stroke-width="0.8"/>
<text class="a" x="45.9" y="479.70" text-anchor="end" style="font-size:10.8px">Sunrise</text>
<text class="a" x="746.1" y="479.70" style="font-size:10.8px">Sunrise</text>
<text class="a" x="45.9" y="493.50" text-anchor="end" style="font-size:10.8px">Sunset</text>
<text class="a" x="746.1" y="493.50" style="font-size:10.8px">Sunset</text>
<text class="a" x="45.9" y="506.90" text-anchor="end" style="font-size:10.8px">Moonrise</text>
<text class="a" x="746.1" y="506.90" style="font-size:10.8px">Moonrise</text>
<text class="a" x="45.9" y="520.50" text-anchor="end" style="font-size:10.8px">Moonset</text>
<text class="a" x="746.1" y="520.50" style="font-size:10.8px">Moonset</text>
<polygon points="123.17,481.95 124.99,486.74 130.11,486.99 126.11,490.21 127.46,495.16 123.17,492.35 118.87,495.16 120.22,490.21 116.22,486.99 121.34,486.74" fill="#8b5a2b"/><polygon points="123.17,484.25 127.92,487.70 126.10,493.30 120.23,493.30 118.41,487.70" fill="#8b5a2b"/>
<text class="t" x="130.27" y="493.6">7:17pm</text>
<polygon points="160.51,468.30 162.39,473.11 167.55,473.41 163.56,476.69 164.86,481.69 160.51,478.90 156.16,481.69 157.47,476.69 153.47,473.41 158.63,473.11" fill="#84840c"/><polygon points="160.51,470.40 165.55,474.06 163.63,479.99 157.40,479.99 155.47,474.06" fill="#84840c"/><polygon points="160.51,472.20 163.94,474.69 162.63,478.71 158.40,478.71 157.09,474.69" fill="#d6d63c"/>
<text class="t" x="167.61" y="479.5">7:00am</text>
<polygon points="199.56,481.95 201.38,486.74 206.50,486.99 202.51,490.21 203.85,495.16 199.56,492.35 195.27,495.16 196.61,490.21 192.62,486.99 197.74,486.74" fill="#8b5a2b"/><polygon points="199.56,484.25 204.31,487.70 202.50,493.30 196.62,493.30 194.80,487.70" fill="#8b5a2b"/>
<text class="t" x="206.66" y="493.6">7:15pm</text>
<polygon points="237.12,468.30 239.00,473.11 244.16,473.41 240.16,476.69 241.47,481.69 237.12,478.90 232.77,481.69 234.08,476.69 230.08,473.41 235.24,473.11" fill="#84840c"/><polygon points="237.12,470.40 242.16,474.06 240.23,479.99 234.00,479.99 232.08,474.06" fill="#84840c"/><polygon points="237.12,472.20 240.54,474.69 239.23,478.71 235.00,478.71 233.69,474.69" fill="#d6d63c"/>
<text class="t" x="244.22" y="479.5">7:02am</text>
<polygon points="275.90,481.95 277.72,486.74 282.84,486.99 278.85,490.21 280.19,495.16 275.90,492.35 271.61,495.16 272.95,490.21 268.96,486.99 274.08,486.74" fill="#8b5a2b"/><polygon points="275.90,484.25 280.66,487.70 278.84,493.30 272.96,493.30 271.14,487.70" fill="#8b5a2b"/>
<text class="t" x="283.00" y="493.6">7:12pm</text>
<polygon points="313.67,468.30 315.55,473.11 320.71,473.41 316.72,476.69 318.02,481.69 313.67,478.90 309.32,481.69 310.63,476.69 306.63,473.41 311.79,473.11" fill="#84840c"/><polygon points="313.67,470.40 318.71,474.06 316.79,479.99 310.56,479.99 308.63,474.06" fill="#84840c"/><polygon points="313.67,472.20 317.10,474.69 315.79,478.71 311.56,478.71 310.25,474.69" fill="#d6d63c"/>
<text class="t" x="320.77" y="479.5">7:03am</text>
<polygon points="352.29,481.95 354.12,486.74 359.24,486.99 355.24,490.21 356.58,495.16 352.29,492.35 348.00,495.16 349.35,490.21 345.35,486.99 350.47,486.74" fill="#8b5a2b"/><polygon points="352.29,484.25 357.05,487.70 355.23,493.30 349.35,493.30 347.54,487.70" fill="#8b5a2b"/>
<text class="t" x="359.39" y="493.6">7:10pm</text>
<polygon points="390.28,468.30 392.16,473.11 397.32,473.41 393.32,476.69 394.63,481.69 390.28,478.90 385.93,481.69 387.23,476.69 383.24,473.41 388.40,473.11" fill="#84840c"/><polygon points="390.28,470.40 395.32,474.06 393.39,479.99 387.16,479.99 385.24,474.06" fill="#84840c"/><polygon points="390.28,472.20 393.70,474.69 392.39,478.71 388.16,478.71 386.85,474.69" fill="#d6d63c"/>
<text class="t" x="397.38" y="479.5">7:05am</text>
<polygon points="428.69,481.95 430.51,486.74 435.63,486.99 431.64,490.21 432.98,495.16 428.69,492.35 424.40,495.16 425.74,490.21 421.74,486.99 426.87,486.74" fill="#8b5a2b"/><polygon points="428.69,484.25 433.44,487.70 431.63,493.30 425.75,493.30 423.93,487.70" fill="#8b5a2b"/>
<text class="t" x="435.79" y="493.6">7:08pm</text>
<polygon points="466.88,468.30 468.77,473.11 473.92,473.41 469.93,476.69 471.23,481.69 466.88,478.90 462.53,481.69 463.84,476.69 459.85,473.41 465.00,473.11" fill="#84840c"/><polygon points="466.88,470.40 471.92,474.06 470.00,479.99 463.77,479.99 461.84,474.06" fill="#84840c"/><polygon points="466.88,472.20 470.31,474.69 469.00,478.71 464.77,478.71 463.46,474.69" fill="#d6d63c"/>
<text class="t" x="473.98" y="479.5">7:07am</text>
<polygon points="505.03,481.95 506.85,486.74 511.97,486.99 507.98,490.21 509.32,495.16 505.03,492.35 500.74,495.16 502.08,490.21 498.09,486.99 503.21,486.74" fill="#8b5a2b"/><polygon points="505.03,484.25 509.78,487.70 507.97,493.30 502.09,493.30 500.27,487.70" fill="#8b5a2b"/>
<text class="t" x="512.13" y="493.6">7:05pm</text>
<polygon points="543.44,468.30 545.32,473.11 550.48,473.41 546.48,476.69 547.79,481.69 543.44,478.90 539.09,481.69 540.39,476.69 536.40,473.41 541.56,473.11" fill="#84840c"/><polygon points="543.44,470.40 548.48,474.06 546.55,479.99 540.32,479.99 538.40,474.06" fill="#84840c"/><polygon points="543.44,472.20 546.86,474.69 545.55,478.71 541.32,478.71 540.01,474.69" fill="#d6d63c"/>
<text class="t" x="550.54" y="479.5">7:08am</text>
<polygon points="581.42,481.95 583.24,486.74 588.36,486.99 584.37,490.21 585.71,495.16 581.42,492.35 577.13,495.16 578.47,490.21 574.48,486.99 579.60,486.74" fill="#8b5a2b"/><polygon points="581.42,484.25 586.18,487.70 584.36,493.30 578.48,493.30 576.67,487.70" fill="#8b5a2b"/>
<text class="t" x="588.52" y="493.6">7:03pm</text>
<polygon points="620.04,468.30 621.92,473.11 627.08,473.41 623.09,476.69 624.39,481.69 620.04,478.90 615.69,481.69 617.00,476.69 613.01,473.41 618.16,473.11" fill="#84840c"/><polygon points="620.04,470.40 625.08,474.06 623.16,479.99 616.93,479.99 615.00,474.06" fill="#84840c"/><polygon points="620.04,472.20 623.47,474.69 622.16,478.71 617.93,478.71 616.62,474.69" fill="#d6d63c"/>
<text class="t" x="627.14" y="479.5">7:10am</text>
<polygon points="657.82,481.95 659.64,486.74 664.76,486.99 660.76,490.21 662.11,495.16 657.82,492.35 653.52,495.16 654.87,490.21 650.87,486.99 655.99,486.74" fill="#8b5a2b"/><polygon points="657.82,484.25 662.57,487.70 660.75,493.30 654.88,493.30 653.06,487.70" fill="#8b5a2b"/>
<text class="t" x="664.92" y="493.6">7:01pm</text>
<polygon points="696.65,468.30 698.53,473.11 703.69,473.41 699.69,476.69 701.00,481.69 696.65,478.90 692.30,481.69 693.61,476.69 689.61,473.41 694.77,473.11" fill="#84840c"/><polygon points="696.65,470.40 701.69,474.06 699.77,479.99 693.53,479.99 691.61,474.06" fill="#84840c"/><polygon points="696.65,472.20 700.07,474.69 698.77,478.71 694.53,478.71 693.23,474.69" fill="#d6d63c"/>
<text class="t" x="703.75" y="479.5">7:12am</text>
<circle cx="134.90" cy="502.8" r="4.75" fill="#ffffcc" stroke="#858585" stroke-width="1.1"/>
<text class="t" x="142.00" y="506.9">10:56pm</text>
<circle cx="214.06" cy="502.8" r="4.75" fill="#ffffcc" stroke="#858585" stroke-width="1.1"/>
<text class="t" x="221.16" y="506.9">11:46pm</text>
<circle cx="293.90" cy="502.8" r="4.75" fill="#ffffcc" stroke="#858585" stroke-width="1.1"/>
<text class="t" x="301.00" y="506.9">12:49am</text>
<circle cx="374.28" cy="502.8" r="4.75" fill="#ffffcc" stroke="#858585" stroke-width="1.1"/>
<text class="t" x="381.38" y="506.9">2:02am</text>
<circle cx="455.14" cy="502.8" r="4.75" fill="#ffffcc" stroke="#858585" stroke-width="1.1"/>
<text class="t" x="462.24" y="506.9">3:24am</text>
<circle cx="536.21" cy="502.8" r="4.75" fill="#ffffcc" stroke="#858585" stroke-width="1.1"/>
<text class="t" x="543.31" y="506.9">4:50am</text>
<circle cx="617.33" cy="502.8" r="4.75" fill="#ffffcc" stroke="#858585" stroke-width="1.1"/>
<text class="t" x="624.43" y="506.9">6:17am</text>
<circle cx="108.28" cy="516.5" r="4.75" fill="#c9c4b0" stroke="#808080" stroke-width="1.1"/>
<text class="t" x="114.48" y="520.6">2:35pm</text>
<circle cx="188.24" cy="516.5" r="4.75" fill="#c9c4b0" stroke="#808080" stroke-width="1.1"/>
<text class="t" x="194.44" y="520.6">3:40pm</text>
<circle cx="267.71" cy="516.5" r="4.75" fill="#c9c4b0" stroke="#808080" stroke-width="1.1"/>
<text class="t" x="273.91" y="520.6">4:36pm</text>
<circle cx="346.76" cy="516.5" r="4.75" fill="#c9c4b0" stroke="#808080" stroke-width="1.1"/>
<text class="t" x="352.96" y="520.6">5:24pm</text>
<circle cx="425.33" cy="516.5" r="4.75" fill="#c9c4b0" stroke="#808080" stroke-width="1.1"/>
<text class="t" x="431.53" y="520.6">6:03pm</text>
<circle cx="503.48" cy="516.5" r="4.75" fill="#c9c4b0" stroke="#808080" stroke-width="1.1"/>
<text class="t" x="509.68" y="520.6">6:34pm</text>
<circle cx="581.42" cy="516.5" r="4.75" fill="#c9c4b0" stroke="#808080" stroke-width="1.1"/>
<text class="t" x="587.62" y="520.6">7:01pm</text>
<circle cx="659.19" cy="516.5" r="4.75" fill="#c9c4b0" stroke="#808080" stroke-width="1.1"/>
<text class="t" x="665.39" y="520.6">7:25pm</text>
<text class="t" x="145.99" y="533.3" text-anchor="end">Last Quarter</text>
<text class="t" x="150.59" y="533.3" text-anchor="middle">|</text>
<text class="t" x="153.59" y="533.3">3:40am</text>
<text class="t" x="655.24" y="533.3" text-anchor="end">New Moon</text>
<text class="t" x="659.84" y="533.3" text-anchor="middle">|</text>
<text class="t" x="662.84" y="533.3">7:26pm</text>
</svg></body></html>
